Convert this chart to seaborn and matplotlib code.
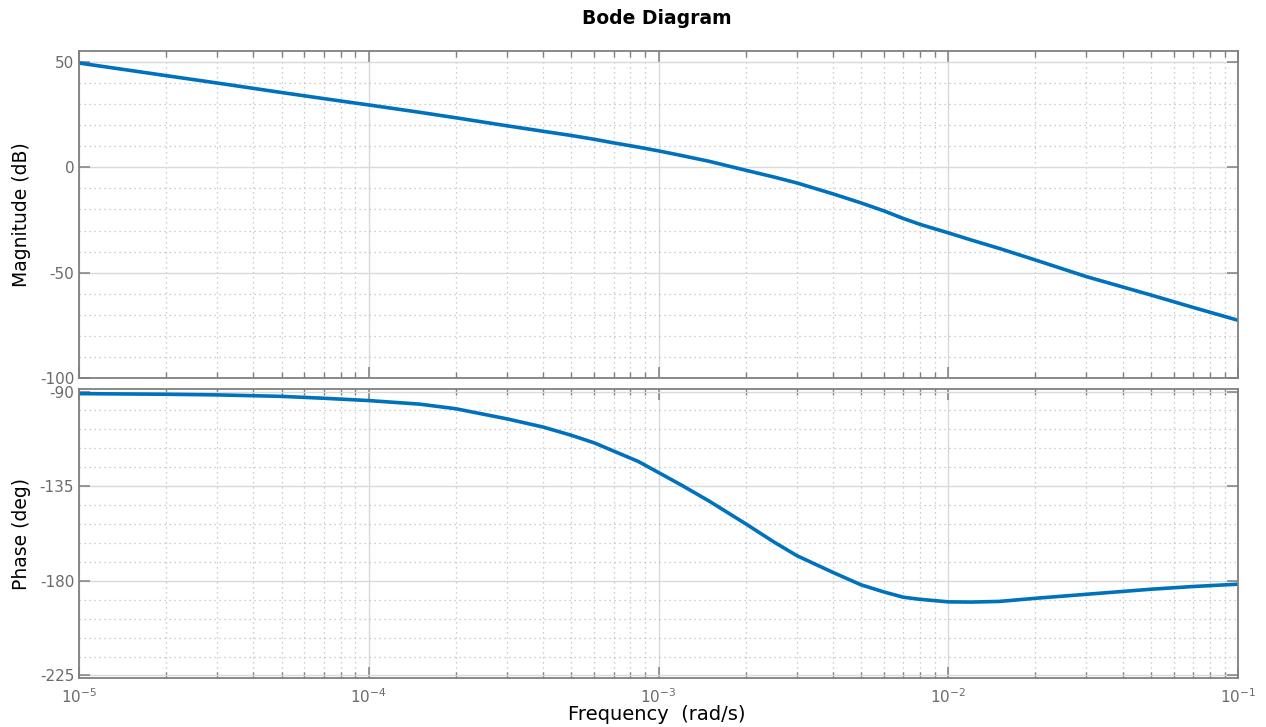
import matplotlib
matplotlib.use("Agg")
import matplotlib.pyplot as plt
from matplotlib.ticker import LogLocator, MultipleLocator, NullFormatter, FixedLocator
import pandas as pd
import seaborn as sns

# values
freq = [1e-5, 2e-5, 3e-5, 5e-5, 7e-5, 1e-4, 1.5e-4, 2e-4, 3e-4, 4e-4, 5e-4, 6e-4,
        7e-4, 8.5e-4, 1e-3, 1.2e-3, 1.5e-3, 2e-3, 2.5e-3, 3e-3, 4e-3, 5e-3, 6e-3,
        7e-3, 8e-3, 1e-2, 1.2e-2, 1.5e-2, 2e-2, 3e-2, 5e-2, 7e-2, 1e-1]
magnitude_db = [49.5, 43.5, 40.0, 35.5, 32.6, 29.6, 26.1, 23.5, 19.7, 17.1, 15.1, 13.3,
                11.6, 9.6, 7.8, 5.6, 2.8, -1.4, -4.6, -7.4, -12.6, -16.9, -20.7,
                -24.3, -27.1, -31.1, -34.5, -38.5, -44.0, -51.9, -60.6, -66.5, -72.6]
phase_deg = [-91.0, -91.3, -91.6, -92.3, -93.2, -94.3, -96.0, -98.2, -103.0, -106.9,
             -110.8, -114.4, -118.3, -123.2, -128.5, -134.5, -142.2, -152.9, -161.5,
             -168.0, -176.0, -181.9, -185.3, -187.8, -188.8, -190.0, -190.1, -189.8,
             -188.3, -186.4, -184.0, -182.7, -181.6]

mag_ticks = [-100, -50, 0, 50]
phase_ticks = [-225, -180, -135, -90]

df = pd.DataFrame({"freq": freq, "mag": magnitude_db, "phase": phase_deg})

sns.set_theme(style="ticks")
plt.rcParams['font.family'] = ['DejaVu Sans']
plt.rcParams['axes.unicode_minus'] = False

line_color = '#0072BD'
tick_color = '#6b6b6b'
spine_color = '#808080'

fig = plt.figure(figsize=(12.66, 7.27), dpi=100)
ax1 = fig.add_axes([79 / 1266, 1 - 378 / 727, 1159 / 1266, 327 / 727])
ax2 = fig.add_axes([79 / 1266, 1 - 678 / 727, 1159 / 1266, 289 / 727])

sns.lineplot(data=df, x="freq", y="mag", ax=ax1, color=line_color, lw=2.6,
             estimator=None, sort=False)
sns.lineplot(data=df, x="freq", y="phase", ax=ax2, color=line_color, lw=2.6,
             estimator=None, sort=False)

for ax, ticks, minor_step, ylim in [(ax1, mag_ticks, 10, (-100, 55.2)),
                                    (ax2, phase_ticks, 9, (-226.2, -88.8))]:
    ax.set_xscale('log')
    ax.set_xlim(1e-5, 1e-1)
    ax.set_ylim(*ylim)
    ax.yaxis.set_major_locator(FixedLocator(ticks))
    ax.yaxis.set_minor_locator(MultipleLocator(minor_step))
    ax.xaxis.set_major_locator(LogLocator(base=10, numticks=10))
    ax.xaxis.set_minor_locator(LogLocator(base=10, subs=range(2, 10), numticks=50))
    ax.xaxis.set_minor_formatter(NullFormatter())
    ax.grid(True, which='major', color='#d9d9d9', lw=1.0, ls='-')
    ax.grid(True, which='minor', color='#bdbdbd', lw=0.9, ls=(0, (1, 3)))
    ax.set_axisbelow(True)
    for s in ax.spines.values():
        s.set_color(spine_color)
        s.set_linewidth(1.3)
    ax.tick_params(axis='both', which='major', direction='in', length=8, width=1.1,
                   color=spine_color, labelcolor=tick_color, labelsize=11,
                   top=True, right=True)
    ax.tick_params(axis='x', which='minor', direction='in', length=4, width=1.0,
                   color=spine_color, top=True, bottom=True)
    ax.tick_params(axis='y', which='minor', length=0)
    ax.set_xlabel('')

ax1.tick_params(axis='x', labelbottom=False)
ax2.tick_params(axis='x', pad=7)

ax1.set_ylabel('Magnitude (dB)', fontsize=13.5, color='black')
ax2.set_ylabel('Phase (deg)', fontsize=13.5, color='black')
ax1.yaxis.set_label_coords(-0.041, 0.5)
ax2.yaxis.set_label_coords(-0.041, 0.5)

fig.text(657 / 1266, 1 - 714 / 727, 'Frequency  (rad/s)', ha='center', va='center',
         fontsize=14, color='black')
fig.text(657 / 1266, 1 - 19 / 727, 'Bode Diagram', ha='center', va='center',
         fontsize=13.5, fontweight='bold', color='black')

fig.savefig('out.png', dpi=100)
